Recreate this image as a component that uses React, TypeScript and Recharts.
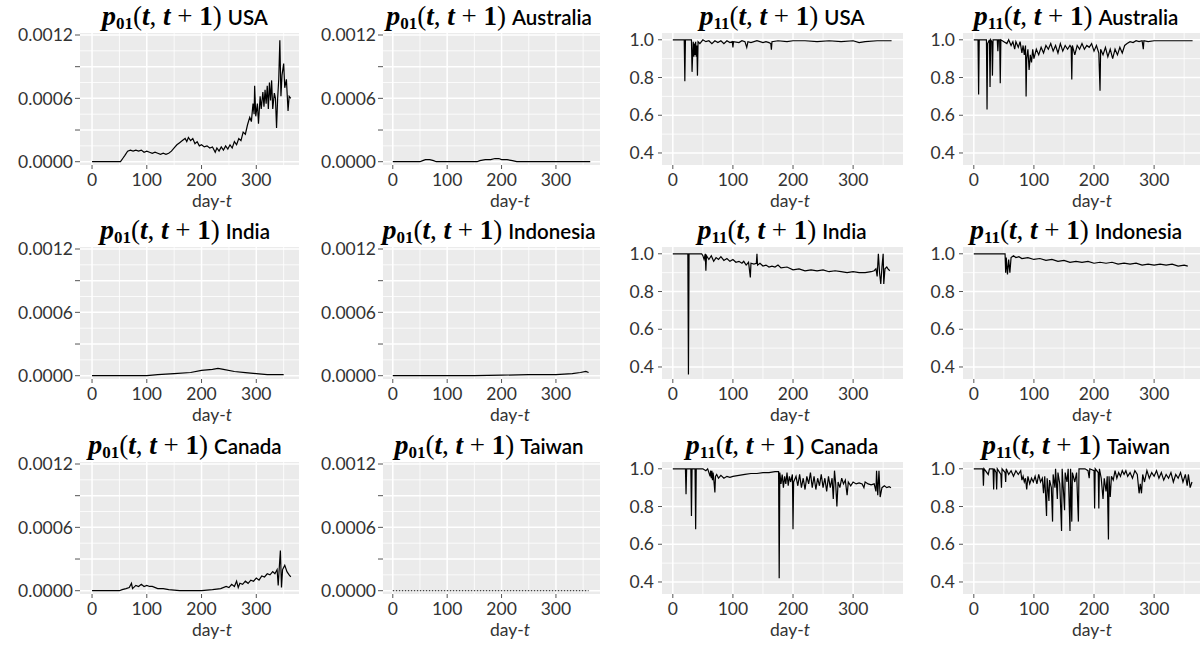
import React from 'react';
import { LineChart, Line, XAxis, YAxis, CartesianGrid } from 'recharts';

// day-t, transition probability
const usaP01: [number, number][] = [
  [0, 0], [52, 0], [56, 0.00003], [60, 0.00006], [65, 0.0001], [70, 0.00011], [75, 0.0001], [80, 0.00011],
  [85, 0.0001], [90, 0.00011], [95, 0.00009], [100, 0.0001], [105, 0.00009], [110, 0.00008], [115, 0.00009],
  [120, 0.00008], [125, 0.00007], [130, 0.00008], [135, 0.00007], [140, 0.00008], [145, 0.0001], [150, 0.00013],
  [155, 0.00016], [160, 0.00018], [165, 0.0002], [170, 0.00022], [173, 0.00019], [176, 0.00023], [180, 0.0002],
  [184, 0.00022], [188, 0.00017], [192, 0.00019], [196, 0.00015], [200, 0.00016], [205, 0.00014], [210, 0.00015],
  [215, 0.00013], [220, 0.00014], [225, 0.00009], [228, 0.00013], [232, 0.0001], [236, 0.00014], [240, 0.00011],
  [244, 0.00015], [248, 0.00012], [252, 0.00016], [256, 0.00013], [260, 0.00019], [264, 0.00016], [268, 0.00022],
  [272, 0.0002], [276, 0.00028], [280, 0.00026], [284, 0.00035], [288, 0.00042], [291, 0.00038], [294, 0.00055],
  [296, 0.00045], [297, 0.00072], [299, 0.00043], [302, 0.00055], [304, 0.00036], [307, 0.00062], [309, 0.0005],
  [312, 0.00066], [314, 0.00052], [316, 0.00068], [318, 0.00055], [320, 0.00072], [322, 0.0005], [324, 0.00075],
  [326, 0.00058], [328, 0.00077], [330, 0.0005], [333, 0.00065], [335, 0.0006], [337, 0.00032], [339, 0.0006],
  [341, 0.00078], [343, 0.00115], [345, 0.00062], [347, 0.00082], [350, 0.00093], [352, 0.0007], [355, 0.00078],
  [358, 0.00048], [360, 0.00062], [363, 0.0006],
];

const australiaP01: [number, number][] = [
  [0, 0], [50, 0], [55, 0.00001], [60, 0.00002], [68, 0.00002], [75, 0.00001], [80, 0], [155, 0],
  [160, 0.00001], [170, 0.00002], [180, 0.00002], [188, 0.00003], [195, 0.00003], [200, 0.00002],
  [210, 0.00002], [220, 0.00001], [228, 0], [363, 0],
];

const indiaP01: [number, number][] = [
  [0, 0], [100, 0], [120, 0.00001], [150, 0.00002], [180, 0.00003], [200, 0.00005], [220, 0.00006],
  [230, 0.00007], [240, 0.00006], [260, 0.00004], [280, 0.00003], [300, 0.00002], [320, 0.00001],
  [340, 0.00001], [350, 0.00001],
];

const indonesiaP01: [number, number][] = [
  [0, 0], [150, 0], [200, 0.000005], [250, 0.00001], [300, 0.00001], [330, 0.00002], [345, 0.00003],
  [355, 0.00004], [360, 0.00003],
];

const canadaP01: [number, number][] = [
  [0, 0], [50, 0], [55, 0.00001], [62, 0.00002], [68, 0.00003], [72, 0.00007], [74, 0.00002], [80, 0.00005],
  [85, 0.00004], [90, 0.00006], [95, 0.00004], [100, 0.00005], [105, 0.00004], [110, 0.00004], [120, 0.00002],
  [130, 0.00002], [140, 0.00001], [160, 0], [200, 0], [220, 0.00001], [235, 0.00002], [245, 0.00004],
  [250, 0.00003], [255, 0.00006], [260, 0.00004], [264, 0.00009], [267, 0.00003], [270, 0.00007], [275, 0.00006],
  [280, 0.00009], [285, 0.00007], [290, 0.0001], [295, 0.00009], [300, 0.00012], [305, 0.0001], [310, 0.00014],
  [315, 0.00013], [320, 0.00016], [325, 0.00015], [330, 0.00018], [334, 0.00016], [338, 0.0002], [340, 0.00005],
  [342, 0.00022], [344, 0.00038], [346, 0.00003], [348, 0.0002], [352, 0.00024], [356, 0.00018], [360, 0.00015],
  [363, 0.00013],
];

const taiwanP01: [number, number][] = [
  [0, 0], [100, 0], [200, 0], [300, 0], [360, 0],
];

const usaP11: [number, number][] = [
  [0, 1], [19, 1], [20, 0.78], [21, 1], [31, 1], [32, 0.83], [33, 0.92], [34, 0.99], [35, 0.91], [36, 0.98],
  [37, 0.92], [38, 0.99], [39, 0.91], [40, 0.97], [41, 0.81], [42, 0.99], [45, 0.98], [50, 1], [55, 0.99],
  [60, 0.995], [65, 0.98], [70, 0.995], [75, 0.985], [80, 0.995], [85, 0.98], [90, 0.995], [95, 0.985],
  [99, 0.99], [100, 0.96], [101, 0.99], [110, 0.985], [115, 0.995], [120, 0.99], [123, 0.96], [125, 0.99],
  [130, 0.985], [140, 0.995], [150, 0.985], [155, 0.99], [160, 0.985], [163, 0.98], [164, 0.947], [165, 0.99],
  [175, 0.995], [190, 0.99], [200, 0.995], [220, 0.995], [240, 0.99], [260, 0.995], [280, 0.99], [300, 0.995],
  [310, 0.985], [320, 0.99], [340, 0.995], [364, 0.995],
];

const australiaP11: [number, number][] = [
  [0, 1], [7, 1], [8, 0.71], [9, 1], [21, 1], [22, 0.63], [23, 0.98], [26, 1], [27, 0.75], [28, 1], [30, 0.99],
  [31, 0.81], [32, 1], [39, 1], [40, 0.94], [41, 1], [43, 1], [44, 0.77], [45, 1], [50, 0.99], [55, 0.98],
  [58, 1], [62, 0.97], [65, 0.99], [68, 0.95], [70, 0.99], [74, 0.96], [77, 0.99], [80, 0.93], [82, 0.97],
  [84, 0.92], [86, 0.97], [87, 0.7], [88, 0.9], [90, 0.95], [92, 0.84], [94, 0.92], [96, 0.88], [98, 0.95],
  [100, 0.9], [104, 0.95], [108, 0.92], [112, 0.96], [116, 0.93], [120, 0.97], [124, 0.95], [128, 0.98],
  [132, 0.94], [136, 0.97], [140, 0.93], [144, 0.98], [148, 0.94], [152, 0.97], [156, 0.95], [160, 0.97],
  [162, 0.96], [163, 0.79], [164, 0.97], [168, 0.92], [172, 0.97], [176, 0.95], [180, 0.98], [184, 0.95],
  [188, 0.97], [192, 0.96], [196, 0.98], [200, 0.94], [204, 0.97], [208, 0.93], [210, 0.73], [211, 0.95],
  [215, 0.92], [219, 0.96], [223, 0.91], [227, 0.95], [231, 0.9], [235, 0.95], [239, 0.92], [243, 0.96],
  [247, 0.93], [251, 0.97], [255, 0.98], [260, 0.99], [265, 0.985], [270, 0.995], [275, 0.99], [280, 0.995],
  [282, 0.95], [283, 0.995], [290, 0.99], [300, 0.995], [320, 0.995], [340, 0.995], [364, 0.995],
];

const indiaP11: [number, number][] = [
  [0, 1], [25, 1], [26, 0.36], [27, 1], [48, 1], [50, 0.99], [52, 0.97], [54, 1], [55, 0.91], [56, 0.99],
  [60, 0.97], [64, 0.99], [68, 0.96], [72, 0.98], [76, 0.97], [80, 0.985], [85, 0.965], [90, 0.975], [95, 0.96],
  [100, 0.97], [105, 0.955], [110, 0.96], [115, 0.95], [118, 0.96], [122, 0.94], [126, 0.955], [129, 0.875],
  [130, 0.95], [135, 0.945], [139, 0.95], [140, 1], [141, 0.94], [145, 0.95], [150, 0.935], [155, 0.94],
  [160, 0.93], [165, 0.935], [170, 0.93], [175, 0.94], [180, 0.925], [190, 0.93], [200, 0.915], [210, 0.92],
  [220, 0.91], [230, 0.915], [240, 0.91], [250, 0.915], [260, 0.905], [270, 0.91], [280, 0.905], [290, 0.9],
  [300, 0.905], [310, 0.9], [320, 0.9], [330, 0.905], [335, 0.91], [338, 0.92], [340, 0.88], [342, 1],
  [344, 0.9], [346, 0.84], [348, 0.93], [350, 1], [351, 0.84], [353, 0.92], [356, 0.93], [358, 0.92], [361, 0.91],
];

const indonesiaP11: [number, number][] = [
  [0, 1], [52, 1], [53, 0.9], [54, 0.98], [56, 0.89], [58, 0.97], [60, 0.9], [62, 0.98], [66, 0.99], [70, 0.98],
  [75, 0.985], [80, 0.975], [90, 0.98], [100, 0.97], [110, 0.975], [120, 0.965], [130, 0.97], [140, 0.96],
  [150, 0.965], [160, 0.955], [170, 0.96], [180, 0.955], [190, 0.96], [200, 0.95], [210, 0.955], [220, 0.95],
  [230, 0.955], [240, 0.945], [250, 0.95], [260, 0.945], [270, 0.95], [280, 0.94], [290, 0.945], [300, 0.94],
  [310, 0.945], [320, 0.94], [330, 0.945], [340, 0.935], [350, 0.94], [356, 0.935],
];

const canadaP11: [number, number][] = [
  [0, 1], [21, 1], [22, 0.865], [23, 1], [30, 1], [31, 0.75], [32, 1], [37, 1], [38, 0.68], [39, 1], [50, 1],
  [55, 0.99], [58, 1], [62, 0.96], [63, 0.99], [64, 0.95], [65, 0.99], [66, 0.94], [67, 0.98], [68, 0.95],
  [70, 0.875], [71, 0.96], [73, 0.97], [76, 0.95], [80, 0.965], [85, 0.95], [90, 0.96], [95, 0.955], [100, 0.96],
  [110, 0.965], [120, 0.97], [130, 0.975], [140, 0.975], [150, 0.98], [160, 0.98], [170, 0.985], [176, 0.985],
  [177, 0.42], [178, 0.98], [180, 0.92], [182, 0.97], [184, 0.9], [186, 0.96], [188, 0.92], [190, 0.98],
  [192, 0.91], [194, 0.96], [196, 0.93], [199, 0.97], [200, 0.68], [201, 0.93], [205, 0.96], [208, 0.91],
  [211, 0.97], [214, 0.9], [217, 0.95], [220, 0.89], [223, 0.96], [226, 0.92], [229, 0.98], [232, 0.9],
  [235, 0.96], [238, 0.89], [241, 0.95], [244, 0.91], [247, 0.97], [250, 0.9], [253, 0.95], [256, 0.88],
  [259, 0.96], [262, 0.9], [265, 0.95], [267, 0.84], [269, 0.99], [271, 0.92], [273, 0.8], [275, 0.93],
  [278, 0.9], [281, 0.95], [284, 0.92], [287, 0.94], [290, 0.86], [292, 0.93], [296, 0.91], [300, 0.93],
  [305, 0.92], [310, 0.925], [315, 0.92], [318, 0.9], [320, 0.93], [325, 0.92], [330, 0.915], [335, 0.92],
  [338, 0.88], [339, 0.99], [341, 0.86], [343, 0.99], [345, 0.85], [348, 0.9], [352, 0.91], [356, 0.9],
  [360, 0.905], [363, 0.9],
];

const taiwanP11: [number, number][] = [
  [0, 1], [15, 1], [16, 0.91], [17, 1], [24, 0.97], [26, 1], [32, 1], [33, 0.89], [34, 1], [37, 0.98],
  [38, 0.89], [39, 1], [45, 0.97], [46, 0.9], [47, 1], [52, 0.98], [53, 0.93], [54, 1], [58, 0.97], [62, 0.99],
  [66, 0.96], [70, 0.99], [74, 0.97], [78, 0.99], [80, 0.94], [82, 0.96], [84, 0.93], [86, 0.95], [88, 0.89],
  [90, 0.96], [93, 0.92], [96, 0.95], [99, 0.93], [102, 0.96], [105, 0.92], [108, 0.97], [111, 0.93],
  [114, 0.95], [116, 0.87], [118, 0.96], [121, 0.75], [122, 0.95], [125, 0.83], [126, 0.94], [129, 0.9],
  [131, 0.72], [132, 0.97], [135, 0.9], [136, 1], [139, 0.84], [140, 0.98], [143, 0.92], [146, 0.67], [147, 1],
  [151, 0.78], [152, 0.98], [155, 0.93], [157, 1], [160, 0.67], [161, 1], [163, 0.72], [164, 0.98], [168, 0.93],
  [171, 0.98], [174, 0.72], [175, 1], [185, 1], [190, 0.99], [192, 0.95], [193, 1], [200, 0.99], [201, 0.79],
  [202, 1], [207, 0.98], [208, 0.79], [209, 1], [212, 0.95], [215, 0.84], [217, 0.95], [220, 0.88], [222, 0.96],
  [224, 0.625], [225, 0.96], [227, 0.85], [229, 0.96], [232, 0.94], [235, 0.99], [238, 0.95], [241, 0.98],
  [244, 0.96], [247, 0.99], [250, 0.97], [253, 0.99], [256, 0.96], [260, 0.98], [264, 0.95], [268, 0.99],
  [272, 0.97], [275, 0.87], [277, 0.92], [279, 0.87], [281, 0.97], [284, 0.93], [288, 0.99], [292, 0.95],
  [296, 0.98], [300, 0.96], [304, 0.99], [308, 0.95], [312, 0.98], [316, 0.94], [320, 0.97], [324, 0.95],
  [328, 0.98], [332, 0.93], [336, 0.97], [340, 0.95], [344, 0.98], [348, 0.93], [352, 0.97], [355, 0.91],
  [357, 0.97], [360, 0.9], [363, 0.93],
];

const xTicks = [0, 100, 200, 300];
const xMinor = [50, 150, 250, 350];
const p01Ticks = [0, 0.0003, 0.0006, 0.0009, 0.0012];
const p01Minor = [0.00015, 0.00045, 0.00075, 0.00105];
const p11Ticks = [0.4, 0.6, 0.8, 1.0];
const p11Minor = [0.5, 0.7, 0.9];

const COLS = [
  { left: 80, right: 299, xDomain: [-22, 378], titleX: 185, axisTitleX: 212 },
  { left: 383, right: 600, xDomain: [-18, 381], titleX: 489, axisTitleX: 510 },
  { left: 662, right: 903, xDomain: [-18, 383], titleX: 782, axisTitleX: 790 },
  { left: 963, right: 1204, xDomain: [-18, 383], titleX: 1076, axisTitleX: 1092 },
];
const ROW_OFFSETS = [0, 214, 429];
const PLOT_TOP = 33;
const PLOT_H = 132;
const TICK_FONT = { fontFamily: 'Lato', fontSize: 17.5, fill: '#333' };

const panels = [
  { row: 0, col: 0, kind: 'p01', country: 'USA', pts: usaP01 },
  { row: 0, col: 1, kind: 'p01', country: 'Australia', pts: australiaP01 },
  { row: 0, col: 2, kind: 'p11', country: 'USA', pts: usaP11 },
  { row: 0, col: 3, kind: 'p11', country: 'Australia', pts: australiaP11 },
  { row: 1, col: 0, kind: 'p01', country: 'India', pts: indiaP01 },
  { row: 1, col: 1, kind: 'p01', country: 'Indonesia', pts: indonesiaP01 },
  { row: 1, col: 2, kind: 'p11', country: 'India', pts: indiaP11 },
  { row: 1, col: 3, kind: 'p11', country: 'Indonesia', pts: indonesiaP11 },
  { row: 2, col: 0, kind: 'p01', country: 'Canada', pts: canadaP01 },
  { row: 2, col: 1, kind: 'p01', country: 'Taiwan', pts: taiwanP01, dashed: true },
  { row: 2, col: 2, kind: 'p11', country: 'Canada', pts: canadaP11 },
  { row: 2, col: 3, kind: 'p11', country: 'Taiwan', pts: taiwanP11 },
];

const fmtP01 = (v: number) => (Math.abs(v / 0.0006 - Math.round(v / 0.0006)) < 1e-6 ? v.toFixed(4) : '');
const fmtP11 = (v: number) => v.toFixed(1);

const Panel = ({ p }: { p: any }) => {
  const c = COLS[p.col];
  const top = PLOT_TOP + ROW_OFFSETS[p.row];
  const isP01 = p.kind === 'p01';
  const axisW = isP01 ? 80 : 50;
  const plotW = c.right - c.left;
  const data = p.pts.map(([day, v]: [number, number]) => ({ day, v }));

  return (
    <div style={{ position: 'absolute', left: c.left - axisW, top: top - 10 }}>
      <LineChart width={axisW + plotW} height={10 + PLOT_H + 26} data={data}
        margin={{ top: 10, right: 0, bottom: 0, left: 0 }}>
        <CartesianGrid fill="#EBEBEB" fillOpacity={1} stroke="#fff" strokeWidth={0.8}
          horizontalValues={isP01 ? p01Minor : p11Minor} verticalValues={xMinor} />
        <CartesianGrid stroke="#fff" strokeWidth={1.5}
          horizontalValues={isP01 ? p01Ticks : p11Ticks} verticalValues={xTicks} />
        <XAxis type="number" dataKey="day" domain={c.xDomain} ticks={xTicks} allowDataOverflow interval={0}
          height={26} tickSize={4} tickMargin={5} axisLine={false} tickLine={{ stroke: '#555' }} tick={TICK_FONT} />
        <YAxis type="number" domain={isP01 ? [-0.0000313, 0.001219] : [0.3363, 1.036]}
          ticks={isP01 ? p01Ticks : p11Ticks} allowDataOverflow interval={0} width={axisW}
          tickSize={isP01 ? 5 : 4} tickMargin={isP01 ? 2 : 4} axisLine={false} tickLine={{ stroke: '#555' }}
          tick={TICK_FONT} tickFormatter={isP01 ? fmtP01 : fmtP11} />
        <Line type="linear" dataKey="v" stroke={p.dashed ? '#444' : '#000'} strokeWidth={1.2}
          strokeDasharray={p.dashed ? '1.5 1.5' : undefined} dot={false} isAnimationActive={false} />
      </LineChart>
    </div>
  );
};

const serif = 'Liberation Serif';

const Title = ({ x, y, sub, country }: { x: number; y: number; sub: string; country: string }) => (
  <text x={x} y={y} textAnchor="middle" fill="#000">
    <tspan fontFamily={serif} fontStyle="italic" fontWeight="bold" fontSize={28}>p</tspan>
    <tspan fontFamily={serif} fontWeight="bold" fontSize={17} dy={4}>{sub}</tspan>
    <tspan fontFamily={serif} fontSize={27} dy={-4}>(</tspan>
    <tspan fontFamily={serif} fontStyle="italic" fontWeight="bold" fontSize={27}>t</tspan>
    <tspan fontFamily={serif} fontSize={27}>, </tspan>
    <tspan fontFamily={serif} fontStyle="italic" fontWeight="bold" fontSize={27}>t</tspan>
    <tspan fontFamily={serif} fontSize={27}> + </tspan>
    <tspan fontFamily={serif} fontWeight="bold" fontSize={27}>1</tspan>
    <tspan fontFamily={serif} fontSize={27}>)</tspan>
    <tspan fontFamily="Lato" fontWeight={600} fontSize={20.5} dx={6}>{country}</tspan>
  </text>
);

export default function App() {
  return (
    <div style={{ position: 'absolute', left: 0, top: 0, width: 1200, height: 646, overflow: 'hidden', background: '#fff' }}>
      {panels.map((p, i) => <Panel key={i} p={p} />)}
      <svg width={1200} height={646} style={{ position: 'absolute', left: 0, top: 0, pointerEvents: 'none' }}>
        {panels.map((p, i) => (
          <g key={i}>
            <Title x={COLS[p.col].titleX} y={25 + ROW_OFFSETS[p.row]} sub={p.kind === 'p01' ? '01' : '11'} country={p.country} />
            <text x={COLS[p.col].axisTitleX} y={207 + ROW_OFFSETS[p.row]} textAnchor="middle"
              fontFamily="Lato" fontSize={17.5} fill="#333">
              <tspan>day-</tspan>
              <tspan fontStyle="italic">t</tspan>
            </text>
          </g>
        ))}
      </svg>
    </div>
  );
}
